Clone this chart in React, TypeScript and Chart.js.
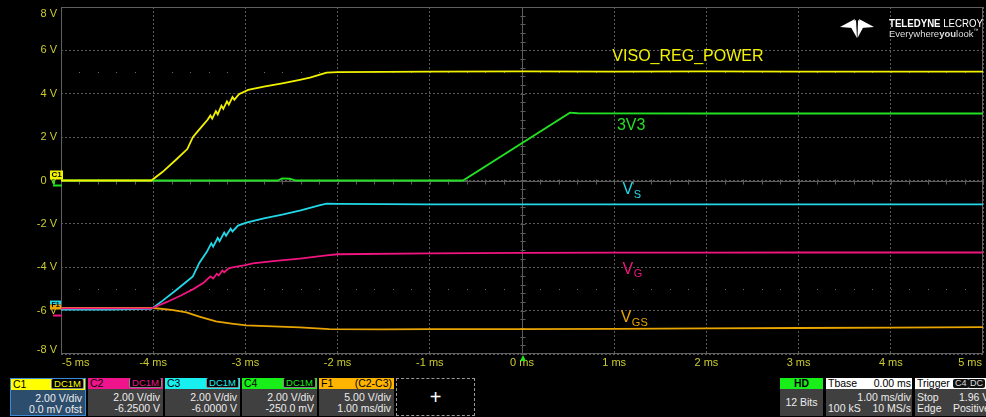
import React, { useEffect, useRef } from "react";
import { Chart, registerables } from "chart.js";
Chart.register(...registerables);

// ---- Data (time in ms, voltage in screen volts at 2 V/div) ----
const c1Time = [-5, -4.5, -4.02, -3.9, -3.75, -3.63, -3.57, -3.52, -3.46, -3.41, -3.38, -3.36, -3.32, -3.3, -3.26, -3.24, -3.2, -3.18, -3.14, -3.12, -3.07, -2.97, -2.8, -2.6, -2.41, -2.3, -2.2, -2.12, -2.0, -1, 0, 1, 2, 3, 4, 5];
const c1Volt = [0, 0, 0, 0.39, 0.97, 1.45, 2.0, 2.25, 2.55, 2.8, 3.0, 2.85, 3.2, 3.05, 3.45, 3.3, 3.65, 3.5, 3.85, 3.72, 3.98, 4.18, 4.33, 4.48, 4.64, 4.74, 4.87, 4.97, 5.0, 5.02, 5.03, 5.02, 5.03, 5.02, 5.02, 5.02];

const c4Time = [-5, -2.65, -2.6, -2.52, -2.45, -0.64, 0.52, 0.6, 2, 5];
const c4Volt = [0, 0, 0.1, 0.08, 0, 0, 3.13, 3.1, 3.09, 3.09];

const c3Time = [-5, -4.5, -4.02, -3.9, -3.75, -3.65, -3.57, -3.5, -3.42, -3.37, -3.35, -3.3, -3.28, -3.23, -3.21, -3.16, -3.14, -3.08, -2.99, -2.8, -2.6, -2.4, -2.2, -2.12, -2.0, -1, 0, 1, 2, 3, 4, 5];
const c3Volt = [-5.95, -5.95, -5.92, -5.55, -5.05, -4.7, -4.42, -3.8, -3.3, -2.9, -3.05, -2.65, -2.8, -2.4, -2.55, -2.22, -2.35, -2.08, -1.94, -1.75, -1.57, -1.38, -1.15, -1.07, -1.08, -1.1, -1.1, -1.1, -1.1, -1.1, -1.1, -1.1];

const c2Time = [-5, -4.5, -4.02, -3.85, -3.7, -3.57, -3.45, -3.38, -3.35, -3.31, -3.29, -3.25, -3.23, -3.18, -3.14, -3.0, -2.92, -2.7, -2.41, -2.12, -2.0, -1, 0, 1, 2, 3, 4, 5];
const c2Volt = [-5.9, -5.9, -5.9, -5.6, -5.3, -5.02, -4.7, -4.42, -4.52, -4.3, -4.38, -4.15, -4.23, -4.05, -4.01, -3.9, -3.82, -3.72, -3.6, -3.45, -3.4, -3.36, -3.34, -3.33, -3.33, -3.32, -3.32, -3.32];

const f1Time = [-5, -4.5, -4.0, -3.8, -3.64, -3.5, -3.32, -3.15, -2.99, -2.7, -2.41, -2.09, -1.5, -1, 0, 1, 2, 3, 4, 5];
const f1Volt = [-5.88, -5.88, -5.88, -5.97, -6.08, -6.28, -6.5, -6.6, -6.68, -6.73, -6.77, -6.85, -6.86, -6.85, -6.85, -6.84, -6.82, -6.8, -6.78, -6.76];

const xTickValues = [-5, -4, -3, -2, -1, 0, 1, 2, 3, 4, 5];
const xTickLabels = ["-5 ms", "-4 ms", "-3 ms", "-2 ms", "-1 ms", "0 ms", "1 ms", "2 ms", "3 ms", "4 ms", "5 ms"];
const yTickValues = [8, 6, 4, 2, 0, -2, -4, -6, -8];
const yTickLabels = ["8 V", "6 V", "4 V", "2 V", "0 V", "-2 V", "-4 V", "-6 V", "-8 V"];

const COL = {
  c1: "#f2f200",
  c2: "#f0157f",
  c3: "#22d8e8",
  c4: "#22e022",
  f1: "#e8a400",
};

const pts = (t: number[], v: number[]) => t.map((x, i) => ({ x, y: v[i] }));

const scopePlugin = {
  id: "scopeOverlay",
  beforeDatasetsDraw(chart: any) {
    const { ctx, chartArea: a, scales } = chart;
    const xs = scales.x, ys = scales.y;
    ctx.save();
    // dotted rows at +/-5 V
    ctx.fillStyle = "#6a6a6a";
    for (const v of [5, -5]) {
      const py = Math.round(ys.getPixelForValue(v));
      for (let t = -5; t <= 5.001; t += 0.2) {
        const px = Math.round(xs.getPixelForValue(t));
        ctx.fillRect(px, py, 1, 1);
      }
    }
    // center cross
    ctx.strokeStyle = "#5c5c5c";
    ctx.lineWidth = 1;
    const cx = Math.round(xs.getPixelForValue(0)) + 0.5;
    const cy = Math.round(ys.getPixelForValue(0)) + 0.5;
    ctx.beginPath();
    ctx.moveTo(a.left, cy); ctx.lineTo(a.right, cy);
    ctx.moveTo(cx, a.top); ctx.lineTo(cx, a.bottom);
    for (let t = -5; t <= 5.001; t += 0.2) {
      const px = Math.round(xs.getPixelForValue(t)) + 0.5;
      ctx.moveTo(px, cy - 2); ctx.lineTo(px, cy + 3);
    }
    for (let v = -8; v <= 8.001; v += 0.4) {
      const py = Math.round(ys.getPixelForValue(v)) + 0.5;
      ctx.moveTo(cx - 2, py); ctx.lineTo(cx + 3, py);
    }
    ctx.stroke();
    // frame
    ctx.strokeStyle = "#606060";
    ctx.strokeRect(a.left + 0.5, a.top + 0.5, a.right - a.left - 1, a.bottom - a.top - 1);
    ctx.restore();
  },
  afterDraw(chart: any) {
    const { ctx, chartArea: a, scales } = chart;
    const xs = scales.x, ys = scales.y;
    ctx.save();
    // y tick labels
    ctx.font = "11px 'Liberation Sans', Arial, sans-serif";
    ctx.fillStyle = "#cccc30";
    ctx.textAlign = "right";
    ctx.textBaseline = "middle";
    yTickValues.forEach((v, i) => {
      let py = ys.getPixelForValue(v);
      if (i === 0) py += 7;
      if (i === yTickValues.length - 1) py -= 4;
      ctx.fillText(yTickLabels[i], 57, py);
    });
    // x tick labels
    xTickValues.forEach((t, i) => {
      const px = xs.getPixelForValue(t);
      ctx.textAlign = i === 0 ? "left" : i === xTickValues.length - 1 ? "right" : "center";
      ctx.fillText(xTickLabels[i], i === 0 ? px + 1 : i === xTickValues.length - 1 ? px - 1 : px, a.bottom + 9);
    });
    // trigger marker
    const tx = xs.getPixelForValue(0) + 1;
    ctx.fillStyle = "#22e022";
    ctx.beginPath();
    ctx.moveTo(tx - 3, a.bottom + 7);
    ctx.lineTo(tx + 3, a.bottom + 7);
    ctx.lineTo(tx, a.bottom + 1);
    ctx.closePath();
    ctx.fill();

    // channel markers at left
    const y0 = ys.getPixelForValue(0);
    ctx.fillStyle = COL.c1;
    ctx.fillRect(50, y0 - 10, 13, 9);
    ctx.fillStyle = "#000";
    ctx.font = "bold 8px 'Liberation Sans', Arial, sans-serif";
    ctx.textAlign = "center";
    ctx.fillText("C1", 56.5, y0 - 5.5);
    ctx.fillStyle = COL.c4;
    ctx.fillRect(53, y0 + 4, 9, 2);
    ctx.fillRect(53, y0 - 1, 2, 5);
    const y6 = ys.getPixelForValue(-5.95);
    ctx.fillStyle = COL.c3;
    ctx.fillRect(50, y6 - 9, 11, 4);
    ctx.fillStyle = COL.f1;
    ctx.fillRect(50, y6 - 5, 11, 5);
    ctx.fillStyle = "#000";
    ctx.font = "bold 7px 'Liberation Sans', Arial, sans-serif";
    ctx.fillText("F1", 55.5, y6 - 4);
    ctx.fillStyle = COL.c2;
    ctx.fillRect(53, y6 + 5, 9, 2);

    // trace labels
    const lab = (text: string, sub: string, t: number, v: number, color: string) => {
      const px = xs.getPixelForValue(t);
      const py = ys.getPixelForValue(v);
      ctx.fillStyle = color;
      ctx.textAlign = "left";
      ctx.textBaseline = "middle";
      ctx.font = "16px 'Liberation Sans', Arial, sans-serif";
      ctx.fillText(text, px, py);
      if (sub) {
        const w = ctx.measureText(text).width;
        ctx.font = "11px 'Liberation Sans', Arial, sans-serif";
        ctx.fillText(sub, px + w + 0.5, py + 5);
      }
    };
    lab("VISO_REG_POWER", "", 0.98, 5.72, COL.c1);
    lab("3V3", "", 1.03, 2.53, COL.c4);
    lab("V", "S", 1.09, -0.42, COL.c3);
    lab("V", "G", 1.09, -4.1, COL.c2);
    lab("V", "GS", 1.07, -6.32, COL.f1);

    // logo
    ctx.fillStyle = "#ffffff";
    const poly = (p: number[][]) => {
      ctx.beginPath();
      ctx.moveTo(p[0][0], p[0][1]);
      for (let i = 1; i < p.length; i++) ctx.lineTo(p[i][0], p[i][1]);
      ctx.closePath();
      ctx.fill();
    };
    poly([[840, 27], [855, 19], [853, 28]]);
    poly([[849, 24], [856, 20], [857, 38]]);
    poly([[858, 20], [865, 24], [857.5, 38]]);
    poly([[874, 27], [859, 19], [861, 28]]);
    ctx.textAlign = "left";
    ctx.textBaseline = "middle";
    // fit "TELEDYNE LECROY" into 94 px
    ctx.font = "bold 10px 'Liberation Sans', Arial, sans-serif";
    const wA = ctx.measureText("TELEDYNE ").width;
    ctx.font = "10px 'Liberation Sans', Arial, sans-serif";
    const wB = ctx.measureText("LECROY").width;
    const sx = Math.min(1, 94 / (wA + wB));
    ctx.save();
    ctx.translate(889, 24);
    ctx.scale(sx, 1);
    ctx.font = "bold 10px 'Liberation Sans', Arial, sans-serif";
    ctx.fillText("TELEDYNE", 0, 0);
    ctx.font = "10px 'Liberation Sans', Arial, sans-serif";
    ctx.fillText("LECROY", wA, 0);
    ctx.restore();
    ctx.fillStyle = "#dddddd";
    ctx.font = "9.5px 'Liberation Sans', Arial, sans-serif";
    ctx.fillText("Everywhere", 889, 34);
    const w2 = ctx.measureText("Everywhere").width;
    ctx.font = "bold 9.5px 'Liberation Sans', Arial, sans-serif";
    ctx.fillText("you", 889 + w2, 34);
    const w3 = ctx.measureText("you").width;
    ctx.font = "9.5px 'Liberation Sans', Arial, sans-serif";
    ctx.fillText("look", 889 + w2 + w3, 34);
    const w4 = ctx.measureText("look").width;
    ctx.font = "5px 'Liberation Sans', Arial, sans-serif";
    ctx.fillText("™", 889 + w2 + w3 + w4, 31);
    ctx.restore();
  },
};

type BoxProps = {
  left: number;
  width: number;
  name: string;
  color: string;
  badge?: string;
  headRight?: string;
  line1: string;
  line2: string;
  selected?: boolean;
};

function ChannelBox(p: BoxProps) {
  return (
    <div
      style={{
        position: "absolute",
        left: p.left,
        top: 378,
        width: p.width,
        height: 38,
        boxSizing: "border-box",
        border: p.selected ? "1px solid #3a8ad8" : "none",
        background: p.selected ? "#2c4e6c" : "#404040",
        fontSize: 10.5,
        lineHeight: "11px",
        color: "#ececec",
      }}
    >
      <div
        style={{
          position: "relative",
          height: 11,
          background: p.color,
          color: "#000",
          paddingLeft: 2,
          lineHeight: "11px",
        }}
      >
        {p.name}
        {p.badge && (
          <span
            style={{
              position: "absolute",
              right: 1,
              top: 0,
              height: 9,
              lineHeight: "9px",
              background: "#000",
              color: p.color,
              fontSize: 9.5,
              padding: "0 2px",
              borderRadius: 2,
              border: "1px solid #888",
              borderTop: "none",
            }}
          >
            {p.badge}
          </span>
        )}
        {p.headRight && (
          <span style={{ position: "absolute", right: 2, top: 0 }}>{p.headRight}</span>
        )}
      </div>
      <div style={{ textAlign: "right", paddingRight: 3, paddingTop: 3 }}>
        <div>{p.line1}</div>
        <div>{p.line2}</div>
      </div>
    </div>
  );
}

export default function App() {
  const ref = useRef<HTMLCanvasElement>(null);
  useEffect(() => {
    document.body.style.margin = "0";
    document.body.style.background = "#000";
    const chart = new Chart(ref.current!, {
      type: "line",
      data: {
        datasets: [
          { label: "C1", data: pts(c1Time, c1Volt), borderColor: COL.c1 },
          { label: "C4", data: pts(c4Time, c4Volt), borderColor: COL.c4 },
          { label: "C2", data: pts(c2Time, c2Volt), borderColor: COL.c2 },
          { label: "C3", data: pts(c3Time, c3Volt), borderColor: COL.c3 },
          { label: "F1", data: pts(f1Time, f1Volt), borderColor: COL.f1 },
        ].map((d) => ({ ...d, borderWidth: 1.8, pointRadius: 0, tension: 0, fill: false })),
      },
      options: {
        responsive: false,
        animation: false,
        devicePixelRatio: 1,
        layout: { padding: { left: 61, top: 7, right: 3, bottom: 18 } },
        plugins: { legend: { display: false }, tooltip: { enabled: false } },
        scales: {
          x: {
            type: "linear",
            min: -5,
            max: 5,
            ticks: { display: false, stepSize: 1 },
            grid: { color: "#5a5a5a", drawTicks: false, lineWidth: 1 },
            border: { display: false, dash: [2, 2] },
          },
          y: {
            type: "linear",
            min: -8,
            max: 8,
            ticks: { display: false, stepSize: 2 },
            grid: { color: "#5a5a5a", drawTicks: false, lineWidth: 1 },
            border: { display: false, dash: [2, 2] },
          },
        },
      },
      plugins: [scopePlugin],
    } as any);
    return () => chart.destroy();
  }, []);

  const font = "'Liberation Sans', Arial, sans-serif";
  return (
    <div
      style={{
        position: "fixed",
        left: 0,
        top: 0,
        width: 986,
        height: 417,
        background: "#000",
        overflow: "hidden",
        fontFamily: font,
      }}
    >
      <canvas ref={ref} width={986} height={372} style={{ position: "absolute", left: 0, top: 0, width: 986, height: 372 }} />
      <ChannelBox left={10} width={76} name="C1" color="#ffff00" badge="DC1M" line1="2.00 V/div" line2="0.0 mV ofst" selected />
      <ChannelBox left={88} width={75} name="C2" color="#f0148c" badge="DC1M" line1="2.00 V/div" line2="-6.2500 V" />
      <ChannelBox left={165} width={75} name="C3" color="#18f0f0" badge="DC1M" line1="2.00 V/div" line2="-6.0000 V" />
      <ChannelBox left={242} width={75} name="C4" color="#18ee18" badge="DC1M" line1="2.00 V/div" line2="-250.0 mV" />
      <ChannelBox left={319} width={75} name="F1" color="#ffb400" headRight="(C2-C3)" line1="5.00 V/div" line2="1.00 ms/div" />
      <div
        style={{
          position: "absolute",
          left: 396,
          top: 378,
          width: 79,
          height: 38,
          boxSizing: "border-box",
          border: "1px dashed #9a9a9a",
          color: "#fff",
          fontSize: 20,
          lineHeight: "36px",
          textAlign: "center",
        }}
      >
        +
      </div>
      {/* HD */}
      <div style={{ position: "absolute", left: 780, top: 378, width: 43, height: 38, background: "#404040", fontSize: 10.5, color: "#ececec", textAlign: "center" }}>
        <div style={{ height: 11, lineHeight: "11px", background: "#18ee18", color: "#000", fontWeight: "bold" }}>HD</div>
        <div style={{ lineHeight: "27px" }}>12 Bits</div>
      </div>
      {/* Tbase */}
      <div style={{ position: "absolute", left: 826, top: 378, width: 86, height: 38, background: "#404040", fontSize: 10.5, color: "#ececec", lineHeight: "11px" }}>
        <div style={{ height: 11, background: "#ffffff", color: "#000", position: "relative", paddingLeft: 2 }}>
          Tbase<span style={{ position: "absolute", right: 1 }}>0.00 ms</span>
        </div>
        <div style={{ paddingTop: 3, position: "relative" }}>
          <div style={{ textAlign: "right", paddingRight: 1 }}>1.00 ms/div</div>
          <div style={{ paddingLeft: 2 }}>
            100 kS<span style={{ position: "absolute", right: 1 }}>10 MS/s</span>
          </div>
        </div>
      </div>
      {/* Trigger */}
      <div style={{ position: "absolute", left: 915, top: 378, width: 80, height: 38, background: "#404040", fontSize: 10.5, color: "#ececec", lineHeight: "11px" }}>
        <div style={{ height: 11, background: "#ffffff", color: "#000", position: "relative", paddingLeft: 2 }}>
          Trigger
          <span style={{ position: "absolute", left: 38, top: 1, height: 9, lineHeight: "9px", background: "#111", color: "#ddd", fontSize: 9, padding: "0 2px", borderRadius: 2 }}>C4</span>
          <span style={{ position: "absolute", left: 53, top: 1, height: 9, lineHeight: "9px", background: "#111", color: "#ddd", fontSize: 9, padding: "0 2px", borderRadius: 2 }}>DC</span>
        </div>
        <div style={{ paddingTop: 3, position: "relative", paddingLeft: 2 }}>
          <div>
            Stop<span style={{ position: "absolute", left: 44 }}>1.96 V</span>
          </div>
          <div>
            Edge<span style={{ position: "absolute", left: 38 }}>Positive</span>
          </div>
        </div>
      </div>
    </div>
  );
}
